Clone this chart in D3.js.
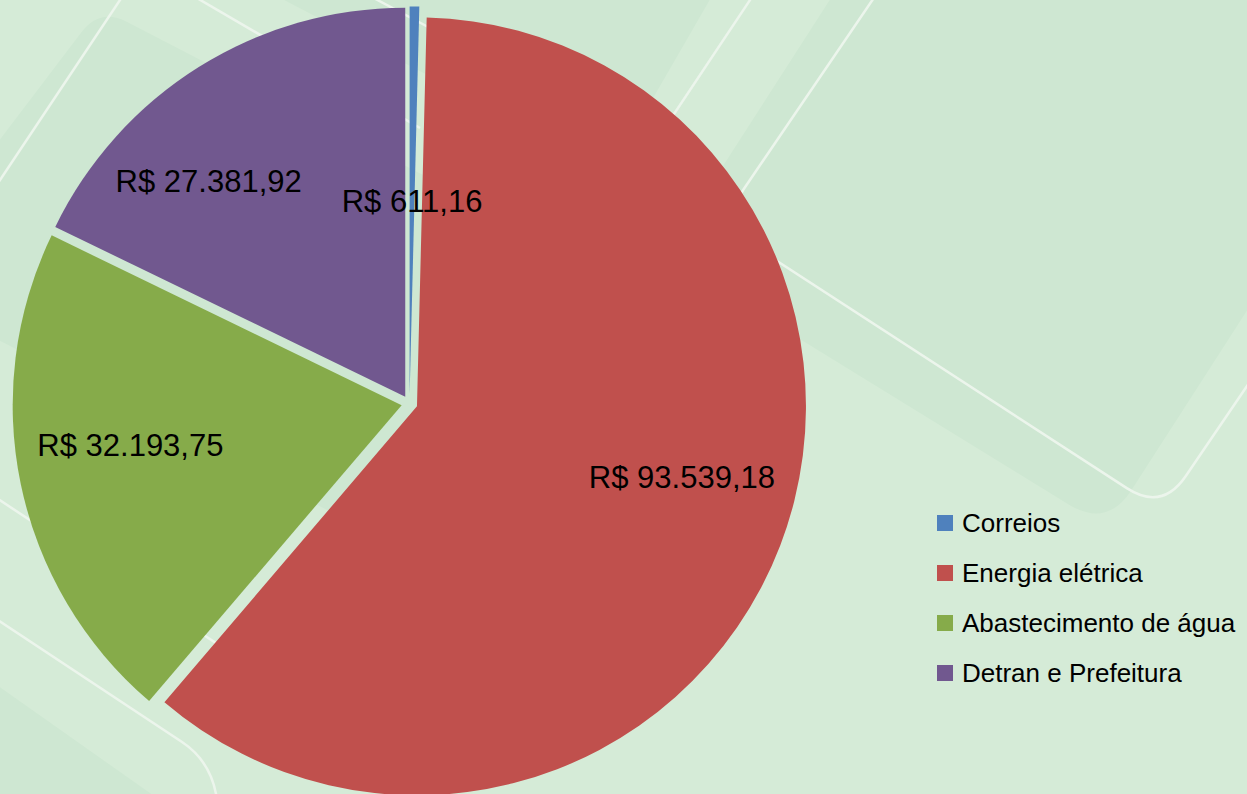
<!DOCTYPE html>
<html>
<head>
<meta charset="utf-8">
<script src="https://cdn.jsdelivr.net/npm/d3@7"></script>
<style>
  html, body { margin: 0; padding: 0; background: #d5ebd7; }
  svg { display: block; font-family: "Liberation Sans", Arial, sans-serif; }
</style>
</head>
<body>
<svg id="chart" width="1247" height="794"></svg>
<script>
// ---- data ----
const categories = ["Correios", "Energia elétrica", "Abastecimento de água", "Detran e Prefeitura"];
const values = [611.16, 93539.18, 32193.75, 27381.92];
const colors = ["#4f81bd", "#c0504d", "#86ab4a", "#71588f"];
// label placement: [radius fraction, angle nudge in degrees]
const labelLayout = [[0.50, 0], [0.705, -6], [0.705, 3.4], [0.75, -10.3]];

const W = 1247, H = 794;
const svg = d3.select("#chart");

// ---- background decoration ----
const bg = svg.append("g");
bg.append("rect").attr("width", W).attr("height", H).attr("fill", "#d5ebd7");

function roundedPoly(pts, r) {
  const n = pts.length;
  let d = "";
  for (let i = 0; i < n; i++) {
    const p = pts[i], a = pts[(i - 1 + n) % n], b = pts[(i + 1) % n];
    const la = Math.hypot(a[0] - p[0], a[1] - p[1]), lb = Math.hypot(b[0] - p[0], b[1] - p[1]);
    const p1 = [p[0] + (a[0] - p[0]) * r / la, p[1] + (a[1] - p[1]) * r / la];
    const p2 = [p[0] + (b[0] - p[0]) * r / lb, p[1] + (b[1] - p[1]) * r / lb];
    d += (i === 0 ? "M" : "L") + p1[0] + "," + p1[1] + "Q" + p[0] + "," + p[1] + " " + p2[0] + "," + p2[1];
  }
  return d + "Z";
}
const dark = "#cee7d2", lineC = "#ecf5ec";
bg.append("path").attr("fill", dark)
  .attr("d", roundedPoly([[665, 256], [1107, 528], [1486, -61], [1044, -333]], 45));
bg.append("path").attr("fill", dark)
  .attr("d", roundedPoly([[611, 171], [900, -330], [100, -600], [-60, -180]], 40));
bg.append("path").attr("fill", dark)
  .attr("d", roundedPoly([[100, 8], [634, 284], [424, 560], [-110, 284]], 30));
bg.append("path").attr("fill", dark)
  .attr("d", roundedPoly([[-60, 645], [330, 920], [-60, 920]], 10));

bg.append("path").attr("fill", "none").attr("stroke", lineC).attr("stroke-width", 2.5)
  .attr("d", roundedPoly([[720, 224], [1162, 511], [1556, -68], [1114, -355]], 42));
const lines = [
  [[132, -18], [-10, 195]],
  [[190, -6], [420, 128]],
  [[370, -4], [430, 28]],
  [[758, -12], [600, 225]],
  [[-5, 497], [420, 778]]
];
lines.forEach(l => bg.append("line").attr("x1", l[0][0]).attr("y1", l[0][1]).attr("x2", l[1][0]).attr("y2", l[1][1])
  .attr("stroke", lineC).attr("stroke-width", 2.5));
bg.append("path").attr("fill", "none").attr("stroke", lineC).attr("stroke-width", 2.5)
  .attr("d", "M-10,615 L182,742 Q212,762 217,800");

// ---- pie ----
const cx = 409.5, cy = 403.5, R = 389, explode = 8;
const ptBR = d3.formatLocale({ decimal: ",", thousands: ".", grouping: [3], currency: ["R$ ", ""] });
const fmt = ptBR.format("$,.2f");

const pie = d3.pie().sort(null).value(d => d.value);
const data = categories.map((c, i) => ({ name: c, value: values[i], color: colors[i], layout: labelLayout[i] }));
const arcs = pie(data);
const arc = d3.arc().innerRadius(0).outerRadius(R);
const offset = d => {
  const m = (d.startAngle + d.endAngle) / 2;
  return [Math.sin(m) * explode, -Math.cos(m) * explode];
};

const g = svg.append("g").attr("transform", `translate(${cx},${cy})`);
g.append("g").selectAll("path").data(arcs).join("path")
  .attr("transform", d => `translate(${offset(d)})`)
  .attr("d", arc).attr("fill", d => d.data.color);

g.append("g").selectAll("text").data(arcs).join("text")
  .attr("transform", d => {
    const o = offset(d);
    const m = (d.startAngle + d.endAngle) / 2 + d.data.layout[1] * Math.PI / 180;
    const r = R * d.data.layout[0];
    return `translate(${o[0] + Math.sin(m) * r},${o[1] - Math.cos(m) * r})`;
  })
  .attr("text-anchor", "middle").attr("dy", "0.35em")
  .attr("font-size", 31).attr("fill", "#000")
  .text(d => fmt(d.data.value));

// ---- legend ----
const legend = svg.append("g").attr("transform", "translate(937,523)");
const items = legend.selectAll("g").data(data).join("g").attr("transform", (d, i) => `translate(0,${i * 50})`);
items.append("rect").attr("x", 0).attr("y", -8).attr("width", 16).attr("height", 16).attr("fill", d => d.color);
items.append("text").attr("x", 25).attr("dy", "0.35em").attr("font-size", 26).attr("fill", "#000").text(d => d.name);
</script>
</body>
</html>
